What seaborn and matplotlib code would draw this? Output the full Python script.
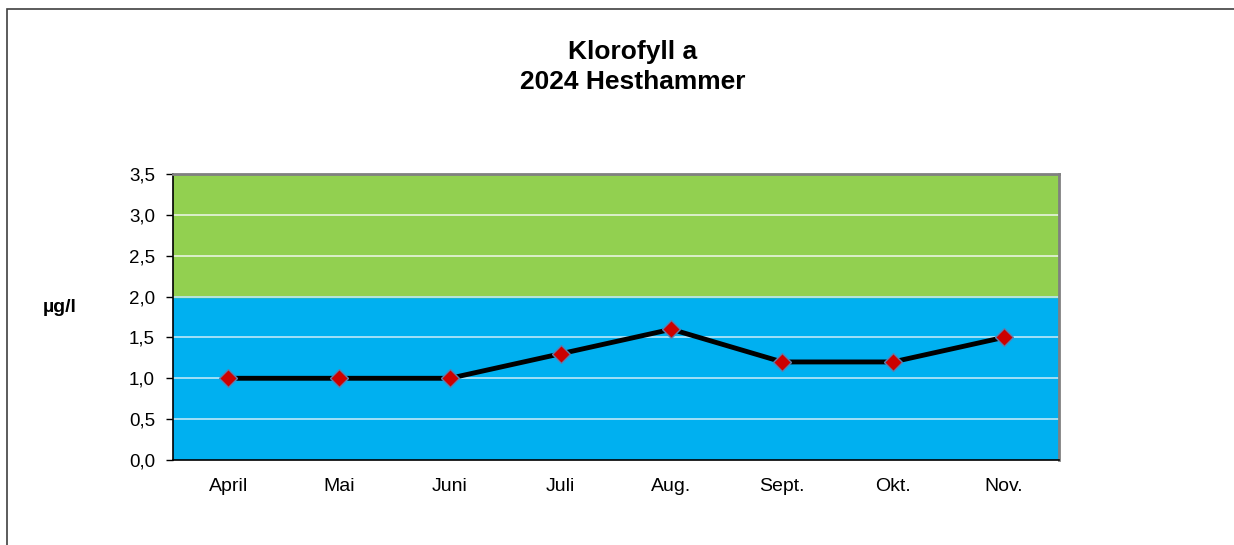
import seaborn as sns
import matplotlib.pyplot as plt
import pandas as pd
from matplotlib.patches import Rectangle

months = ["April", "Mai", "Juni", "Juli", "Aug.", "Sept.", "Okt.", "Nov."]
klorofyll = [1.0, 1.0, 1.0, 1.3, 1.6, 1.2, 1.2, 1.5]
yticks = [0.0, 0.5, 1.0, 1.5, 2.0, 2.5, 3.0, 3.5]
grense = 2.0  # skille mellom blaa og groenn sone

df = pd.DataFrame({"maaned": months, "verdi": klorofyll})
df["x"] = range(len(months))

sns.set_style("white")
plt.rcParams["font.family"] = ["Liberation Sans", "DejaVu Sans"]
plt.rcParams["text.color"] = "black"
plt.rcParams["xtick.color"] = "black"
plt.rcParams["ytick.color"] = "black"

fig = plt.figure(figsize=(12.34, 5.45), dpi=100)
ax = fig.add_axes([173 / 1234, 1 - 460 / 545, 886 / 1234, 286 / 545])

# ramme rundt figuren
fig.patches.append(Rectangle((7 / 1234, -0.1), 1.2, 1 - 9 / 545 + 0.1,
                             transform=fig.transFigure, fill=False,
                             edgecolor="#404040", linewidth=1.2))

ax.axhspan(0, grense, color="#00B0F0", zorder=0)
ax.axhspan(grense, 3.5, color="#92D050", zorder=0)
for t in yticks[1:-1]:
    ax.axhline(t, color="#E8F4E0" if t > grense else "#BDE8F8", lw=1.2, zorder=1)

sns.lineplot(data=df, x="x", y="verdi", ax=ax, color="black", lw=3.5,
             marker="D", markersize=9, markerfacecolor="#CC0000",
             markeredgecolor="#5A7FB0", markeredgewidth=1, zorder=3)

ax.set_xlim(-0.5, len(months) - 0.5)
ax.set_ylim(0, 3.5)
ax.set_yticks(yticks)
ax.set_yticklabels([f"{v:.1f}".replace(".", ",") for v in yticks], fontsize=13.5)
ax.set_xticks(df["x"])
ax.set_xticklabels(months, fontsize=14)
ax.tick_params(axis="x", length=0, pad=13)
ax.set_xticks([i - 0.5 for i in range(len(months) + 1)], minor=True)
ax.tick_params(axis="x", which="minor", length=5, width=1, color="black", direction="out")
ax.tick_params(axis="y", length=5, width=1, color="black", direction="out", left=True, pad=8)
ax.set_xlabel("")
ax.set_ylabel("")

for side in ["left", "bottom"]:
    ax.spines[side].set_color("black")
    ax.spines[side].set_linewidth(1.2)
for side in ["top", "right"]:
    ax.spines[side].set_visible(True)
    ax.spines[side].set_color("#808080")
    ax.spines[side].set_linewidth(2)

fig.text(60 / 1234, 1 - 308 / 545, "µg/l", fontsize=14, fontweight="bold",
         ha="center", va="center")
fig.text(633 / 1234, 1 - 67 / 545, "Klorofyll a\n2024 Hesthammer", fontsize=19,
         fontweight="bold", ha="center", va="center", linespacing=1.3)

fig.savefig("out.png", dpi=100)
